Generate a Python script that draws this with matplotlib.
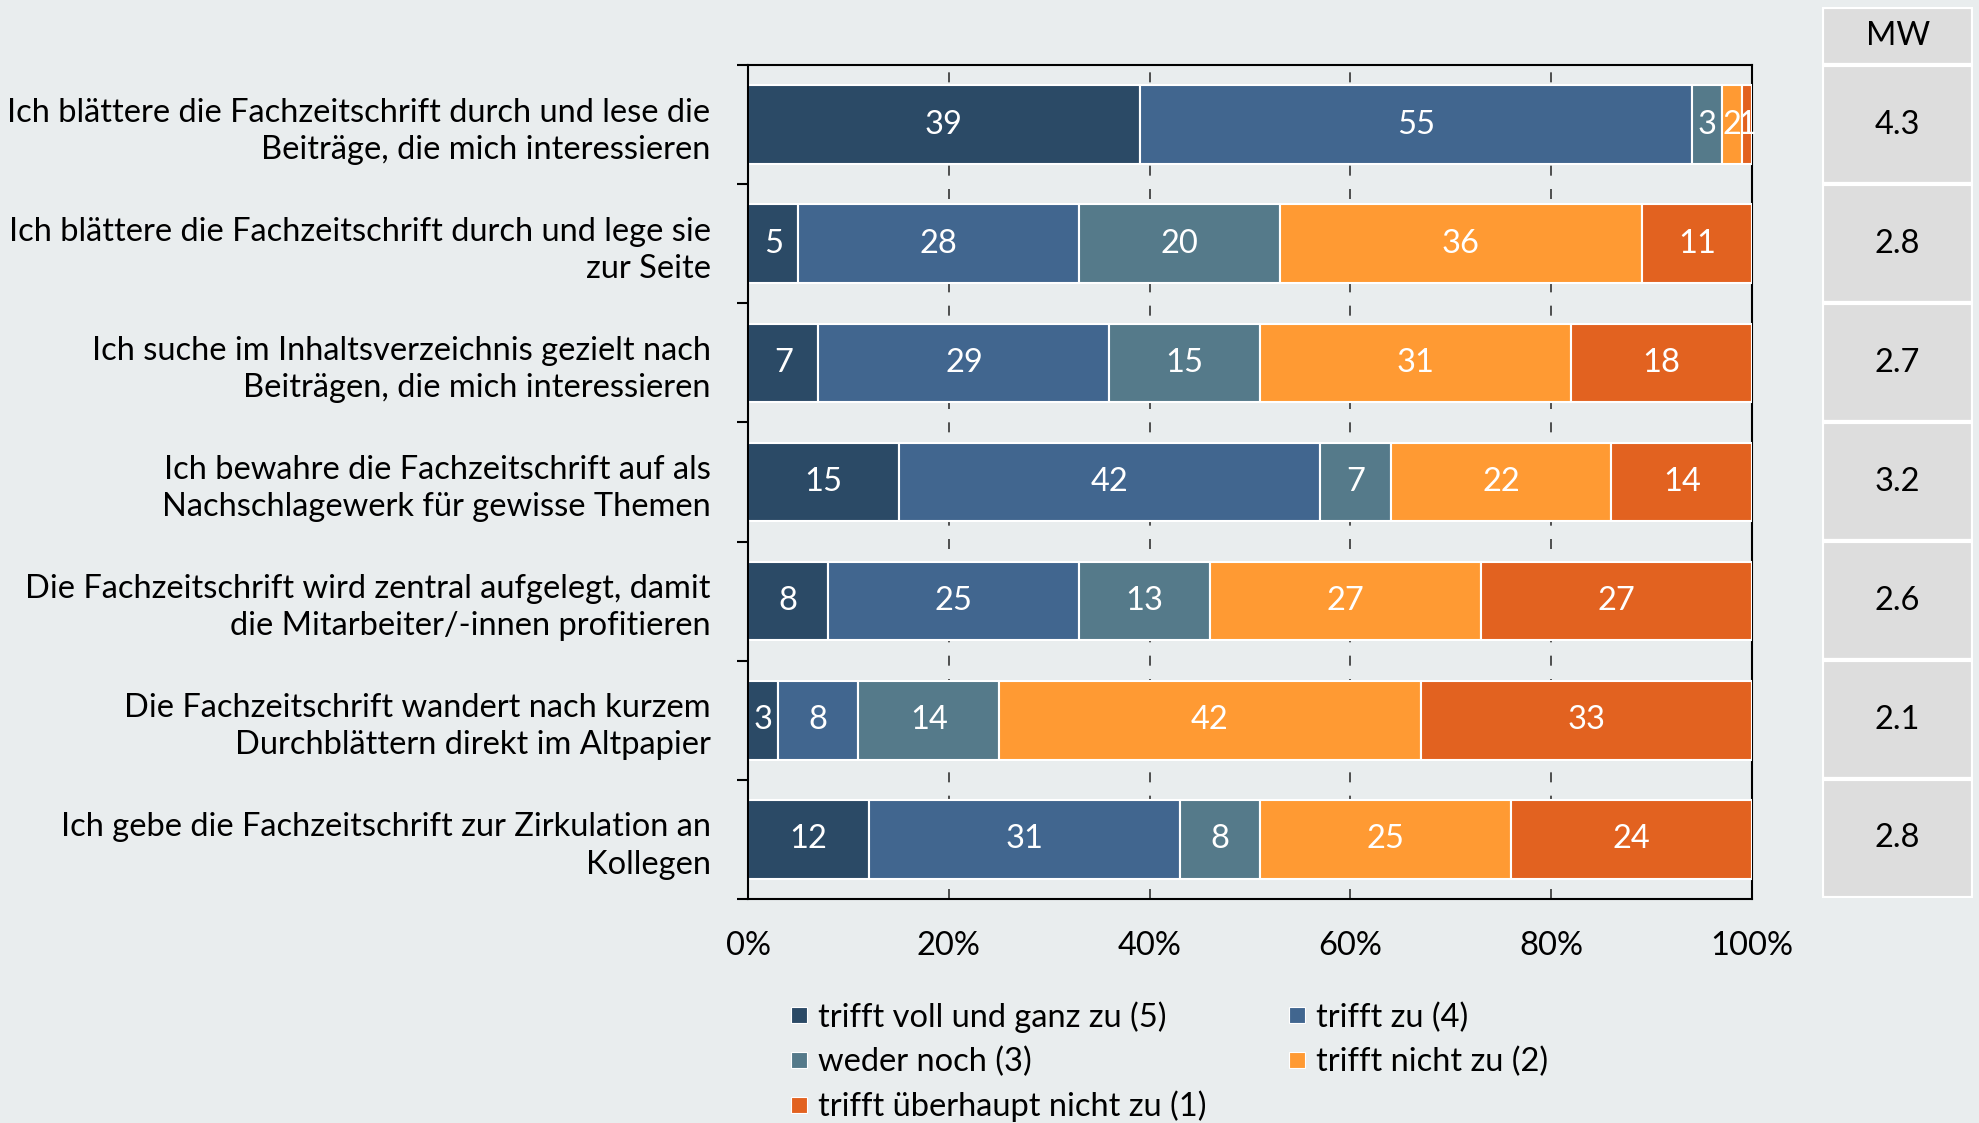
import matplotlib
matplotlib.use('Agg')
import matplotlib.pyplot as plt
from matplotlib.lines import Line2D
from matplotlib.patches import Rectangle

plt.rcParams['font.family'] = ['Lato', 'DejaVu Sans']

categories = [
    'Ich blättere die Fachzeitschrift durch und lese die\nBeiträge, die mich interessieren',
    'Ich blättere die Fachzeitschrift durch und lege sie\nzur Seite',
    'Ich suche im Inhaltsverzeichnis gezielt nach\nBeiträgen, die mich interessieren',
    'Ich bewahre die Fachzeitschrift auf als\nNachschlagewerk für gewisse Themen',
    'Die Fachzeitschrift wird zentral aufgelegt, damit\ndie Mitarbeiter/-innen profitieren',
    'Die Fachzeitschrift wandert nach kurzem\nDurchblättern direkt im Altpapier',
    'Ich gebe die Fachzeitschrift zur Zirkulation an\nKollegen',
]
series_names = ['trifft voll und ganz zu (5)', 'trifft zu (4)', 'weder noch (3)',
                'trifft nicht zu (2)', 'trifft überhaupt nicht zu (1)']
voll = [39, 5, 7, 15, 8, 3, 12]
zu = [55, 28, 29, 42, 25, 8, 31]
weder = [3, 20, 15, 7, 13, 14, 8]
nicht = [2, 36, 31, 22, 27, 42, 25]
ueberhaupt = [1, 11, 18, 14, 27, 33, 24]
mw = ['4.3', '2.8', '2.7', '3.2', '2.6', '2.1', '2.8']

colors = ['#2B4A66', '#41668F', '#557A8A', '#FF9A33', '#E26220']
bg = '#E9EDEE'
fs = 23.5

fig = plt.figure(figsize=(19.79, 11.23), dpi=100, facecolor=bg)
ax = fig.add_axes([0.378, 0.1995, 0.5073, 0.7426], facecolor=bg)

y = list(range(len(categories)))
left = [0] * len(categories)
for vals, col in zip([voll, zu, weder, nicht, ueberhaupt], colors):
    bars = ax.barh(y, vals, left=left, height=0.66, color=col, edgecolor='white',
                   linewidth=1.5, zorder=3)
    ax.bar_label(bars, labels=[str(v) for v in vals], label_type='center',
                 color='white', fontsize=fs)
    left = [a + b for a, b in zip(left, vals)]

ax.set_xlim(0, 100)
ax.set_ylim(len(categories) - 0.5, -0.5)
ax.set_xticks([0, 20, 40, 60, 80, 100])
ax.set_xticklabels(['0%', '20%', '40%', '60%', '80%', '100%'], fontsize=fs)
ax.tick_params(axis='x', length=0, pad=23)
ax.set_yticks(y)
ax.set_yticklabels(categories, fontsize=fs, linespacing=1.3)
ax.tick_params(axis='y', which='major', length=0, pad=27)
ax.set_yticks([i - 0.5 for i in range(len(categories) + 1)], minor=True)
ax.tick_params(axis='y', which='minor', length=8, width=1.5, color='black')

for x in [20, 40, 60, 80]:
    ax.axvline(x, color='#333333', linewidth=1.2, linestyle=(0, (6, 8)), zorder=1)

for s in ax.spines.values():
    s.set_linewidth(1.5)
    s.set_color('black')
ax.spines['left'].set_zorder(4)

handles = [Line2D([], [], marker='s', linestyle='', markersize=12,
                  markerfacecolor=c, markeredgecolor='white', markeredgewidth=0.8)
           for c in colors]
order = [0, 2, 4, 1, 3]
fig.legend([handles[i] for i in order], [series_names[i] for i in order],
           loc='upper left', bbox_to_anchor=(0.3905, 0.123), ncol=2, frameon=False,
           fontsize=fs, handlelength=0.6, handletextpad=0.3, columnspacing=2.45,
           labelspacing=0.42, borderpad=0)

# MW-Tabelle rechts
tax = fig.add_axes([0.9207, 0.2004, 0.0763, 0.7934])
tax.set_xlim(0, 1)
tax.set_ylim(len(categories) - 0.5, -0.99)
tax.axis('off')
tax.add_patch(Rectangle((0, -0.99), 1, 0.49, facecolor='#DDDDDD', edgecolor='white', lw=3))
tax.text(0.5, -0.745, 'MW', ha='center', va='center', fontsize=fs)
for i, v in enumerate(mw):
    tax.add_patch(Rectangle((0, i - 0.5), 1, 1, facecolor='#DDDDDD', edgecolor='white', lw=3))
    tax.text(0.5, i, v, ha='center', va='center', fontsize=fs)

fig.savefig('out.png', dpi=100, facecolor=bg)
